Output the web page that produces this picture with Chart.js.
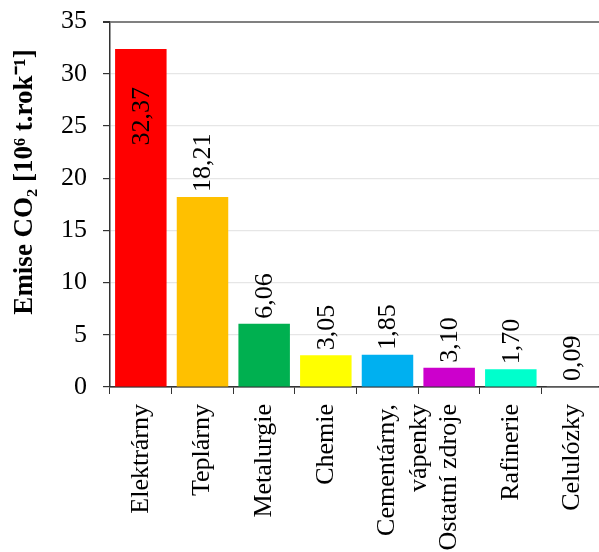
<!DOCTYPE html>
<html><head><meta charset="utf-8">
<script src="https://cdn.jsdelivr.net/npm/chart.js@4/dist/chart.umd.min.js"></script>
<style>
html,body{margin:0;padding:0;background:#fff;overflow:hidden;width:599px;height:552px;}
#wrap{position:relative;width:614px;height:562px;margin-top:-10px;}
</style></head>
<body><div id="wrap"><canvas id="c"></canvas></div>
<script>
const categories = ['Elektrárny','Teplárny','Metalurgie','Chemie',['Cementárny,','vápenky'],'Ostatní zdroje','Rafinerie','Celulózky'];
const values = [32.37, 18.21, 6.06, 3.05, 3.10, 1.85, 1.70, 0.09];
const valueLabels = ['32,37','18,21','6,06','3,05','1,85','3,10','1,70','0,09'];
const barColors = ['#FF0000','#FFC000','#00B050','#FFFF00','#00B0F0','#CC00CC','#00FFCC','#7F7F7F'];
const yTicks = [0,5,10,15,20,25,30,35];
const yTitle = 'Emise CO\u2082 [10\u2076 t.rok\u207B\u00B9]';
const FONT = '"Liberation Serif","Times New Roman",serif';

const valueLabelPlugin = {
  id:'valueLabels',
  afterDatasetsDraw(chart){
    const ctx = chart.ctx;
    const meta = chart.getDatasetMeta(0);
    ctx.save();
    ctx.font = '26px ' + FONT;
    ctx.fillStyle = '#000';
    ctx.textBaseline = 'middle';
    meta.data.forEach((bar,i)=>{
      ctx.save();
      ctx.translate(bar.x + 1, bar.y);
      ctx.rotate(-Math.PI/2);
      if (i === 0) {
        ctx.textAlign = 'right';
        ctx.fillText(valueLabels[i], -38, 0);
      } else {
        ctx.textAlign = 'left';
        ctx.fillText(valueLabels[i], 5, 0);
      }
      ctx.restore();
    });
    ctx.restore();
  }
};

const yTitlePlugin = {
  id:'yTitle',
  afterDraw(chart){
    const ctx = chart.ctx;
    ctx.save();
    ctx.font = 'bold 27px ' + FONT;
    ctx.fillStyle = '#000';
    ctx.textAlign = 'center';
    ctx.textBaseline = 'middle';
    ctx.translate(25, 192);
    ctx.rotate(-Math.PI/2);
    ctx.fillText(yTitle, 0, 0);
    ctx.restore();
  }
};

new Chart(document.getElementById('c'), {
  type:'bar',
  data:{labels:categories, datasets:[{data:values, backgroundColor:barColors, borderWidth:0, barPercentage:0.835, categoryPercentage:1}]},
  options:{
    responsive:true, maintainAspectRatio:false, animation:false,
    devicePixelRatio:1,
    layout:{padding:{top:2,right:5,left:0,bottom:0}},
    plugins:{legend:{display:false}, tooltip:{enabled:false}},
    scales:{
      x:{
        grid:{drawOnChartArea:false, drawTicks:true, tickLength:7, color:'#333', offset:true},
        border:{color:'#333', width:1.5},
        ticks:{minRotation:90, maxRotation:90, autoSkip:false, padding:10, color:'#000', font:{family:FONT, size:26}},
        afterFit(s){ s.height = 165; }
      },
      y:{
        min:0, max:35,
        afterBuildTicks(s){ s.ticks = yTicks.map(v=>({value:v})); },
        grid:{
          color:(c)=> c.tick && c.tick.value===35 ? '#808080' : (c.tick && c.tick.value===0 ? '#333' : '#e6e6e6'),
          lineWidth:(c)=> c.tick && c.tick.value===35 ? 2 : 1.2,
          drawTicks:true, tickLength:7, tickColor:'#333'
        },
        border:{color:'#333', width:1.5},
        ticks:{padding:16, color:'#000', font:{family:FONT, size:26}},
        title:{display:false},
        afterFit(s){ s.width = 110; }
      }
    }
  },
  plugins:[valueLabelPlugin, yTitlePlugin]
});
</script>
</body></html>
